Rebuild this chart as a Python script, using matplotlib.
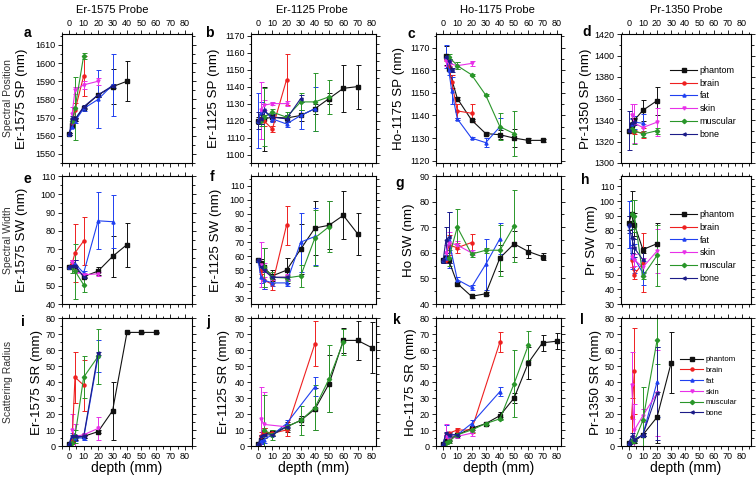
import matplotlib
matplotlib.use('Agg')
import matplotlib.pyplot as plt
from matplotlib.ticker import MultipleLocator, AutoMinorLocator

plt.rcParams['font.family'] = ['Liberation Sans', 'DejaVu Sans']

SERIES = ['phantom', 'brain', 'fat', 'skin', 'muscular', 'bone']
PROBES = ['Er-1575 Probe', 'Er-1125 Probe', 'Ho-1175 Probe', 'Pr-1350 Probe']
ROW_TITLES = ['Spectral Position', 'Spectral Width', 'Scattering Radius']
YLABELS = ['Er-1575 SP (nm)', 'Er-1125 SP (nm)', 'Ho-1175 SP (nm)', 'Pr-1350 SP (nm)',
           'Er-1575 SW (nm)', 'Er-1125 SW (nm)', 'Ho SW (nm)', 'Pr SW (nm)',
           'Er-1575 SR (mm)', 'Er-1125 SR (mm)', 'Ho-1175 SR (mm)', 'Pr-1350 SR (mm)']
LETTERS = list('abcdefghijkl')
XTICKS = [0, 10, 20, 30, 40, 50, 60, 70, 80]

# ---------------- data: depth (x), value (y), error (e) per tissue ----------------
# a: Er-1575 SP
a_x = dict(phantom=[0, 2, 4, 10, 20, 30, 40], brain=[2, 4, 10], fat=[0, 2, 4, 10, 20, 30],
           skin=[2, 4, 10, 20], muscular=[2, 4, 10], bone=[0, 2, 4, 10, 20, 30])
a_y = dict(phantom=[1561, 1566, 1569, 1575.5, 1582.5, 1587, 1590], brain=[1567, 1574, 1593],
           fat=[1561, 1565, 1568, 1575, 1580, 1588], skin=[1572, 1585, 1588, 1590],
           muscular=[1568, 1575, 1604], bone=[1561, 1570, 1569, 1576, 1582.5, 1587.5])
a_e = dict(phantom=[0.5, 1, 1, 1, 1, 9.5, 11], brain=[2, 4, 11], fat=[0.5, 1, 1, 1.5, 16, 17],
           skin=[4, 2, 2, 2], muscular=[2, 17.5, 1.5], bone=[0.5, 1, 1, 1, 1, 1])
# b: Er-1125 SP
b_x = dict(phantom=[0, 2, 4, 10, 20, 30, 40, 50, 60, 70], brain=[2, 4, 10, 20],
           fat=[0, 2, 4, 10, 20, 30, 40], skin=[2, 4, 10, 20], muscular=[2, 4, 10, 20, 30, 40, 50],
           bone=[0, 2, 4, 10, 20, 30])
b_y = dict(phantom=[1120, 1121, 1121, 1122, 1121.5, 1123, 1127, 1133, 1139, 1140],
           brain=[1121, 1120, 1115, 1144], fat=[1120, 1125, 1126, 1121, 1118, 1123, 1127],
           skin=[1126, 1129, 1130, 1130], muscular=[1120, 1122, 1125, 1122, 1131, 1131, 1134],
           bone=[1120, 1121, 1126, 1122, 1121, 1133])
b_e = dict(phantom=[2, 3, 19, 2, 2, 3, 3, 3, 14, 13], brain=[2, 3, 2, 15],
           fat=[16, 6, 4, 2, 1.5, 8, 13], skin=[17, 3, 1, 1.5], muscular=[3, 17, 2, 3, 5, 17, 10],
           bone=[5, 3, 4, 2, 2, 2])
# c: Ho-1175 SP
c_x = dict(phantom=[2, 4, 10, 20, 30, 40, 50, 60, 70], brain=[2, 4, 6, 10, 20],
           fat=[2, 4, 6, 10, 20, 30, 40], skin=[2, 4, 10, 20], muscular=[4, 10, 20, 30, 40, 50],
           bone=[2, 4, 6])
c_y = dict(phantom=[1166.5, 1160.5, 1147.5, 1138, 1132, 1131.5, 1130, 1129, 1129],
           brain=[1165, 1162, 1155, 1142, 1141], fat=[1166, 1160, 1151, 1138.5, 1130, 1128, 1135],
           skin=[1164, 1163, 1162, 1163], muscular=[1166, 1162, 1158, 1149, 1135, 1132],
           bone=[1166, 1164, 1160])
c_e = dict(phantom=[4, 1, 0.5, 0.5, 0.5, 2, 4, 1, 0.5], brain=[1, 2, 3, 3, 4],
           fat=[5, 2, 6, 0.5, 0.5, 2, 4], skin=[2, 1, 1.5, 1], muscular=[1, 1.5, 0.5, 0.5, 6, 10],
           bone=[1, 1, 1])
# d: Pr-1350 SP
d_x = dict(phantom=[0, 2, 4, 10, 20], brain=[2, 4, 10], fat=[2, 4, 10], skin=[2, 4, 10, 20],
           muscular=[2, 4, 10, 20], bone=[0, 2, 4])
d_y = dict(phantom=[1330, 1335, 1340, 1349, 1358], brain=[1330, 1329, 1328], fat=[1336, 1338, 1337],
           skin=[1345, 1337, 1333, 1338], muscular=[1332, 1330, 1327, 1330], bone=[1330, 1337, 1338])
d_e = dict(phantom=[2, 3, 2, 10, 13], brain=[2, 2, 5], fat=[5, 6, 9], skin=[10, 18, 3, 13],
           muscular=[2, 12, 3, 3], bone=[18, 5, 3])
# e: Er-1575 SW
e_x = dict(phantom=[0, 2, 4, 10, 20, 30, 40], brain=[2, 4, 10], fat=[0, 2, 4, 10, 20, 30],
           skin=[2, 4, 10, 20], muscular=[2, 4, 10], bone=[0, 2, 4, 10])
e_y = dict(phantom=[60.5, 61, 60, 55, 58, 66, 72.5], brain=[62, 68, 74.5],
           fat=[60.5, 61, 62, 57, 85.5, 85], skin=[63, 58, 56, 56.5], muscular=[60, 58, 50.5],
           bone=[60.5, 61, 61, 55])
e_e = dict(phantom=[1, 1, 1, 1, 2, 11, 12], brain=[2, 16, 13], fat=[1, 2, 2, 1, 15.5, 14.5],
           skin=[1, 1, 1, 1], muscular=[3, 15, 4], bone=[1, 1, 3, 1])
# f: Er-1125 SW
f_x = dict(phantom=[0, 2, 4, 10, 20, 30, 40, 50, 60, 70], brain=[2, 4, 10, 20],
           fat=[0, 2, 4, 10, 20, 30, 40], skin=[2, 4, 10, 20], muscular=[4, 10, 20, 30, 40, 50],
           bone=[0, 2, 4, 10, 20])
f_y = dict(phantom=[57, 55, 52, 46, 50, 65, 80, 82, 89, 76], brain=[50, 43, 40, 82],
           fat=[57, 45, 43, 41, 41, 70, 74], skin=[54, 50, 45, 45], muscular=[52, 45, 44.5, 46, 73, 81],
           bone=[57, 52, 50, 45, 45])
f_e = dict(phantom=[1, 3, 14, 4, 9, 18, 19, 17, 17, 15], brain=[3, 6, 4, 14],
           fat=[1, 4, 6, 2, 2, 21, 20], skin=[16, 5, 2, 2], muscular=[14, 4, 2, 8, 20, 18],
           bone=[1, 1, 1, 1, 1])
# g: Ho SW
g_x = dict(phantom=[0, 2, 4, 10, 20, 30, 40, 50, 60, 70], brain=[2, 4, 10, 20],
           fat=[0, 2, 4, 10, 20, 30, 40], skin=[2, 4, 10, 20], muscular=[4, 10, 20, 30, 40, 50],
           bone=[0, 2, 4])
g_y = dict(phantom=[57, 58, 57, 48, 43, 44, 58, 63.5, 60.5, 58.5], brain=[57, 63, 62, 64],
           fat=[57, 58, 65, 49.5, 46.5, 55.5, 65.5], skin=[60, 64, 63, 60],
           muscular=[58, 70, 59.5, 61, 61, 70.5], bone=[57, 65, 66])
g_e = dict(phantom=[1, 1, 1, 0.5, 0.5, 0.5, 5, 5, 2.5, 1.5], brain=[1, 4, 2, 3.5],
           fat=[1, 1, 11, 1, 1, 10, 6], skin=[3, 4, 1.5, 1], muscular=[3, 7, 1, 1, 10, 14],
           bone=[1, 5, 10])
# h: Pr SW
h_x = dict(phantom=[0, 2, 4, 10, 20], brain=[2, 4, 10], fat=[0, 2, 4, 10], skin=[2, 4, 10, 20],
           muscular=[2, 4, 10, 20], bone=[0, 2, 4, 10])
h_y = dict(phantom=[85, 91, 84, 67, 71], brain=[60, 50, 58], fat=[84, 62, 61, 51],
           skin=[62, 60, 55, 66], muscular=[91, 90, 49, 63], bone=[84, 75, 68, 60])
h_e = dict(phantom=[5, 16, 8, 2, 14], brain=[5, 3, 20], fat=[16, 8, 10, 8],
           skin=[7, 4, 6, 15], muscular=[10, 11, 2, 21], bone=[6, 10, 6, 8])
# i: Er-1575 SR
i_x = dict(phantom=[0, 2, 4, 10, 20, 30, 40, 50, 60], brain=[2, 4, 10], fat=[0, 2, 4, 10, 20],
           skin=[2, 4, 10, 20], muscular=[2, 4, 10, 20], bone=[0, 2, 4, 10, 20])
i_y = dict(phantom=[1.5, 3, 5, 6, 9, 22, 71, 71, 71], brain=[3, 43, 38], fat=[1.5, 6, 5, 5, 56],
           skin=[10, 6, 7, 11], muscular=[2, 6, 43, 56], bone=[1.5, 6, 6, 6, 58])
i_e = dict(phantom=[0.5, 1, 1, 1, 1, 18, 0.5, 0.5, 0.5], brain=[2, 16, 16], fat=[0.5, 2, 2, 1, 10],
           skin=[10, 8, 1, 7], muscular=[2, 4, 13, 17], bone=[0.5, 1, 1, 1, 1])
# j: Er-1125 SR
j_x = dict(phantom=[0, 2, 4, 10, 20, 30, 40, 50, 60, 70, 80], brain=[2, 4, 10, 20, 40],
           fat=[0, 2, 4, 10, 20, 40], skin=[2, 4, 20], muscular=[4, 10, 20, 30, 40, 50, 60],
           bone=[0, 2, 4, 10, 20])
j_y = dict(phantom=[1, 4, 8, 8, 12, 16, 23, 39, 66, 66, 61.5], brain=[6, 9, 8, 10, 64],
           fat=[1, 3, 4, 7, 14, 37], skin=[17, 13.5, 12], muscular=[10, 7, 12, 16, 24, 42, 65],
           bone=[1, 6, 7, 7, 12])
j_e = dict(phantom=[0.5, 3, 3, 2, 3, 3, 13, 18, 8, 12, 16], brain=[3, 2, 1, 4, 14],
           fat=[0.5, 2, 2, 1, 2, 6], skin=[20, 20, 2], muscular=[22, 3, 2, 9, 14, 21, 8],
           bone=[0.5, 1, 1, 1, 1])
# k: Ho-1175 SR
k_x = dict(phantom=[0, 2, 4, 10, 20, 30, 40, 50, 60, 70, 80], brain=[2, 4, 10, 20, 40],
           fat=[0, 2, 4, 10, 20, 40], skin=[2, 4, 10, 20], muscular=[2, 4, 10, 20, 30, 40, 50, 60],
           bone=[0, 2, 4, 10])
k_y = dict(phantom=[1.5, 3, 4, 7, 11, 14, 19, 30, 52, 64.5, 65.5], brain=[6, 8, 10, 10, 65],
           fat=[1.5, 7, 7, 7, 14, 34], skin=[6, 4, 6, 8], muscular=[2, 3, 7, 10, 14, 17, 39, 63],
           bone=[1.5, 8, 7, 7])
k_e = dict(phantom=[0.5, 1, 1, 1, 1, 1, 2, 3, 10, 5, 5], brain=[2, 1, 1.5, 2, 6],
           fat=[0.5, 6, 2, 1, 2, 3], skin=[8, 2, 1, 2], muscular=[1, 1, 1, 1, 1, 1, 21, 9],
           bone=[0.5, 1, 1, 1])
# l: Pr-1350 SR
l_x = dict(phantom=[0, 2, 4, 10, 20, 30], brain=[2, 4], fat=[0, 2, 4, 10, 20], skin=[2, 4, 10, 20],
           muscular=[2, 4, 10, 20], bone=[0, 2, 4, 10, 20])
l_y = dict(phantom=[2, 3, 3, 7, 18, 52], brain=[18, 47], fat=[2, 4, 4, 7, 40], skin=[38, 10, 19, 33],
           muscular=[3, 3, 16, 66], bone=[2, 6, 4, 7, 33])
l_e = dict(phantom=[0.5, 1, 1, 1, 16, 19], brain=[12, 27], fat=[0.5, 2, 1, 1, 22], skin=[21, 16, 4, 27],
           muscular=[1, 1, 21, 15], bone=[0.5, 2, 1, 1, 29])

PANEL_X = [a_x, b_x, c_x, d_x, e_x, f_x, g_x, h_x, i_x, j_x, k_x, l_x]
PANEL_Y = [a_y, b_y, c_y, d_y, e_y, f_y, g_y, h_y, i_y, j_y, k_y, l_y]
PANEL_E = [a_e, b_e, c_e, d_e, e_e, f_e, g_e, h_e, i_e, j_e, k_e, l_e]

# ---------------- styling / layout ----------------
COLORS = dict(phantom='#111111', brain='#ee2020', fat='#2040f0', skin='#e830e8',
              muscular='#2a962a', bone='#1c1c88')
MARKERS = dict(phantom='s', brain='o', fat='^', skin='v', muscular='D', bone='<')
YLIMS = [(1545, 1616), (1095, 1171), (1119, 1176), (1300, 1420),
         (40, 110), (26, 117), (40, 90), (30, 117),
         (0, 80), (0, 80), (0, 80), (0, 80)]
YSTEPS = [10, 10, 10, 20, 10, 10, 10, 10, 10, 10, 10, 10]
XLIMS = [(-5, 85), (-5, 83), (-5, 83), (-5.5, 86.5)]
COL_PX = [(62, 192), (251, 376), (436, 561), (621, 751)]
ROW_PX = [(34, 163), (176, 304), (318, 446)]
# x position (axes coords) of the right-hand edge of each rotated y label
YLAB_X = [-0.26, -0.25, -0.25, -0.22, -0.26, -0.23, -0.17, -0.18, -0.146, -0.17, -0.15, -0.146]
LETTER_PX = [(27, 33), (209, 33), (411, 34), (587, 32), (27, 179), (212, 177), (400, 183),
             (585, 180), (23, 322), (208, 322), (397, 320), (582, 320)]
TITLE_PX = [112, 312, 497, 686]

W, H = 756, 478
fig = plt.figure(figsize=(W / 100, H / 100), dpi=100)

for idx in range(12):
    r, c = divmod(idx, 4)
    x0, x1 = COL_PX[c]
    y0, y1 = ROW_PX[r]
    ax = fig.add_axes([x0 / W, 1 - y1 / H, (x1 - x0) / W, (y1 - y0) / H])
    handles = []
    for s in SERIES:
        cont = ax.errorbar(PANEL_X[idx][s], PANEL_Y[idx][s], yerr=PANEL_E[idx][s],
                           color=COLORS[s], marker=MARKERS[s], markersize=2.2, lw=0.8,
                           elinewidth=0.7, capsize=1.8, capthick=0.7)
        handles.append(cont.lines[0])
    ax.set_xlim(*XLIMS[c])
    ax.set_ylim(*YLIMS[idx])
    ax.xaxis.set_minor_locator(MultipleLocator(5))
    ax.yaxis.set_major_locator(MultipleLocator(YSTEPS[idx]))
    ax.yaxis.set_minor_locator(AutoMinorLocator(2))
    ax.set_xticks(XTICKS)
    ax.tick_params(which='both', direction='out', top=True, right=True, width=0.6,
                   labelsize=6.5, pad=1.5, labeltop=(r == 0), labelbottom=(r == 2))
    ax.tick_params(which='major', length=3)
    ax.tick_params(which='minor', length=1.8)
    for sp in ax.spines.values():
        sp.set_linewidth(0.8)
    ax.set_ylabel(YLABELS[idx], fontsize=9.6)
    ax.yaxis.set_label_coords(YLAB_X[idx], 0.5)
    if r == 2:
        ax.set_xlabel('depth (mm)', fontsize=10, labelpad=0)
    lx, ly = LETTER_PX[idx]
    fig.text(lx / W, 1 - ly / H, LETTERS[idx], fontsize=10, fontweight='bold',
             ha='center', va='center')
    if c == 3:
        if r < 2:
            ax.legend(handles, SERIES, loc='center left',
                      bbox_to_anchor=(0.377, 0.47 if r == 0 else 0.45),
                      frameon=False, fontsize=6.5, handlelength=3.0, handletextpad=0.3,
                      labelspacing=0.42, borderpad=0, borderaxespad=0)
        else:
            ax.legend(handles, SERIES, loc='center left', bbox_to_anchor=(0.454, 0.465),
                      frameon=False, fontsize=5.6, handlelength=3.0, handletextpad=0.3,
                      labelspacing=0.42, borderpad=0, borderaxespad=0)
    if c == 0:
        fig.text(8 / W, 1 - (y0 + y1) / 2 / H, ROW_TITLES[r], rotation=90, fontsize=7.5,
                 ha='center', va='center', color='#333333')

for c in range(4):
    fig.text(TITLE_PX[c] / W, 1 - 10 / H, PROBES[c], fontsize=8, ha='center', va='center')

fig.savefig('out.png', dpi=100)
